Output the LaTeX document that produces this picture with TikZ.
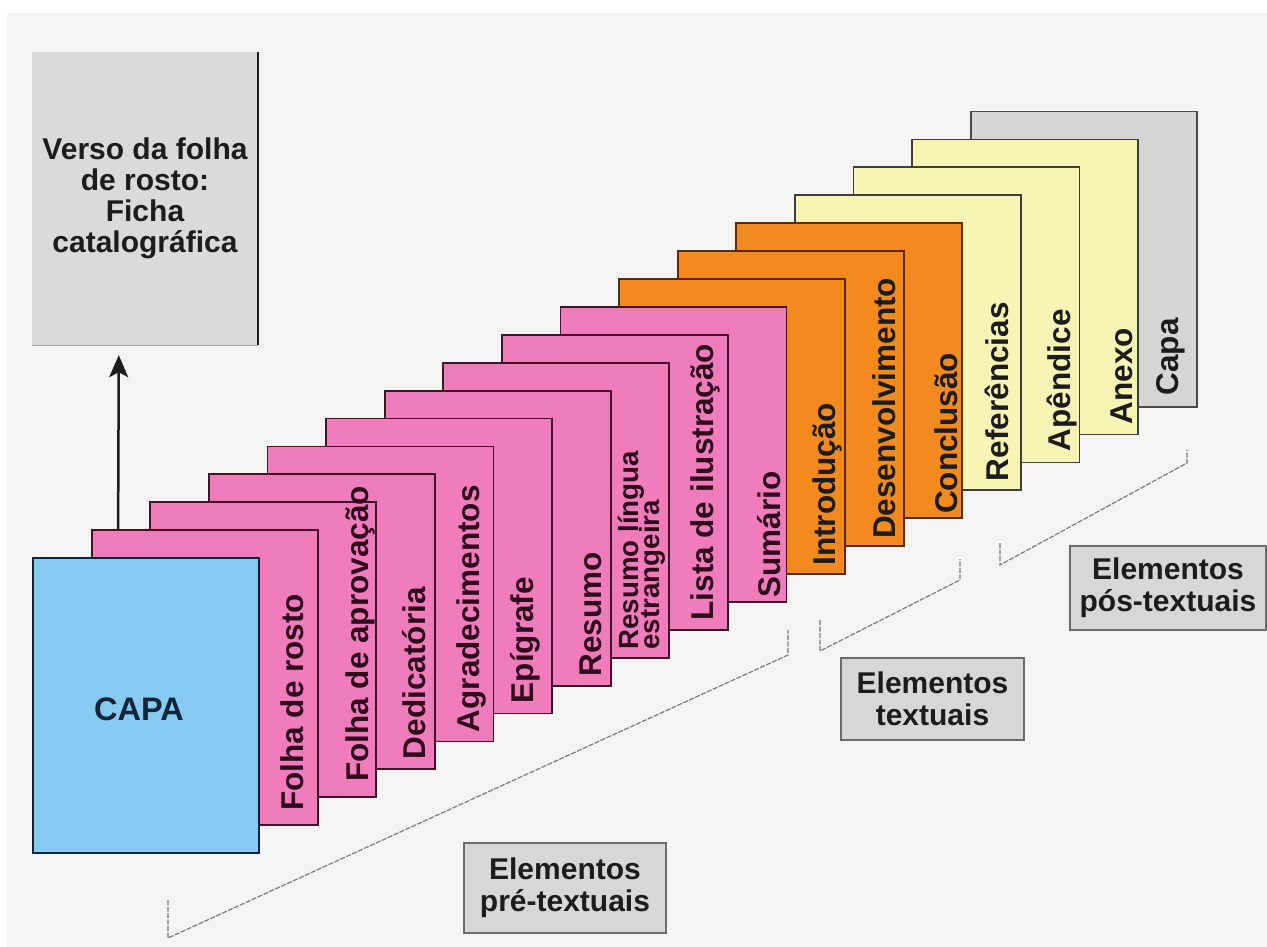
\documentclass[tikz,border=0pt]{standalone}
\usepackage{fontspec}
\setmainfont{Liberation Sans}
\usetikzlibrary{arrows.meta}
\definecolor{bgpaper}{HTML}{F5F4F2}
\definecolor{capablue}{HTML}{86CAEF}
\definecolor{prepink}{HTML}{F07CBC}
\definecolor{txtorange}{HTML}{F28A1E}
\definecolor{poscream}{HTML}{F8F4B6}
\definecolor{posgrey}{HTML}{D6D5D4}
\definecolor{versogrey}{HTML}{DCDAD8}
\definecolor{boxgrey}{HTML}{D9D7D5}
\definecolor{pinkline}{HTML}{3D1428}
\definecolor{orangeline}{HTML}{5A2A0C}
\definecolor{inkdark}{HTML}{1C1C1C}
\definecolor{inkpink}{HTML}{2E0C1C}
\definecolor{inknavy}{HTML}{10243A}
\definecolor{dashgrey}{HTML}{7A7A7A}
\newcommand{\tightlines}{\lineskiplimit=-40pt\relax}
\begin{document}
\begin{tikzpicture}[
    x=1pt, y=-1pt,
    page/.style={draw, line width=1.8pt,
      minimum width=226pt, minimum height=295pt, inner sep=0pt},
    pinkpage/.style={page, fill=prepink, draw=pinkline},
    orangepage/.style={page, fill=txtorange, draw=orangeline},
    creampage/.style={page, fill=poscream, draw=inkdark!85},
    greypage/.style={page, fill=posgrey, draw=inkdark!80},
    lbl/.style={rotate=90, anchor=base west, inner sep=0pt, text=inkdark,
      font=\fontsize{31.5}{34}\selectfont\bfseries},
    pinklbl/.style={lbl, text=inkpink},
    group/.style={draw=inkdark!65, line width=1.6pt, fill=boxgrey,
      align=center, text=inkdark, font=\fontsize{30}{32}\selectfont\bfseries},
    bracket/.style={draw=dashgrey, line width=1.2pt, dash pattern=on 5pt off 1.5pt}
  ]
    \fill[white] (0,0) rectangle (1267,947);
    \fill[bgpaper] (7,13) rectangle (1267,947);
    \useasboundingbox (0,0) rectangle (1267,947);

    \node[greypage] (capafim) at (1083.6,259.1) {};
    \node[lbl] (capafimT) at ([xshift=-19pt,yshift=12pt]capafim.south east) {Capa};
    \node[creampage] (anexo) at (1025,287) {};
    \node[lbl] (anexoT) at ([xshift=-6pt,yshift=11pt]anexo.south east) {Anexo};
    \node[creampage] (apend) at (966.4,314.9) {};
    \node[lbl] (apendT) at ([xshift=-10pt,yshift=12pt]apend.south east) {Apêndice};
    \node[creampage] (refer) at (907.8,342.8) {};
    \node[lbl] (referT) at ([xshift=-13pt,yshift=10pt]refer.south east) {Referências};

    \node[orangepage] (concl) at (849.2,370.7) {};
    \node[lbl] (conclT) at ([xshift=-6pt,yshift=5pt]concl.south east) {Conclusão};
    \node[orangepage] (desenv) at (790.6,398.6) {};
    \node[lbl] (desenvT) at ([xshift=-9pt,yshift=8pt]desenv.south east) {Desenvolvimento};
    \node[orangepage] (intro) at (732,426.5) {};
    \node[lbl] (introT) at ([xshift=-10pt,yshift=9pt]intro.south east) {Introdução};

    \node[pinkpage] (sumario) at (673.4,454.4) {};
    \node[pinklbl] (sumarioT) at ([xshift=-7pt,yshift=5pt]sumario.south east) {Sumário};
    \node[pinkpage] (lista) at (614.8,482.3) {};
    \node[pinklbl] (listaT) at ([xshift=-15pt,yshift=10pt]lista.south east) {Lista de ilustração};
    \node[pinkpage] (lingua) at (556.2,510.2) {};
    \node[pinklbl, anchor=south west, align=left,
      font=\fontsize{27.7}{21}\selectfont\bfseries\tightlines]
      (linguaT) at ([xshift=-5pt,yshift=9pt]lingua.south east) {Resumo língua\\estrangeira};
    \node[pinkpage] (resumo) at (497.6,538.1) {};
    \node[pinklbl] (resumoT) at ([xshift=-10pt,yshift=10pt]resumo.south east) {Resumo};
    \node[pinkpage] (epig) at (439,566) {};
    \node[pinklbl] (epigT) at ([xshift=-19pt,yshift=11pt]epig.south east) {Epígrafe};
    \node[pinkpage] (agrad) at (380.4,593.9) {};
    \node[pinklbl] (agradT) at ([xshift=-15pt,yshift=10pt]agrad.south east) {Agradecimentos};
    \node[pinkpage] (dedic) at (321.8,621.8) {};
    \node[pinklbl] (dedicT) at ([xshift=-10pt,yshift=11pt]dedic.south east) {Dedicatória};
    \node[pinkpage] (aprov) at (263.2,649.7) {};
    \node[pinklbl] (aprovT) at ([xshift=-9pt,yshift=16pt]aprov.south east) {Folha de aprovação};
    \node[pinkpage] (rosto) at (204.6,677.6) {};
    \node[pinklbl] (rostoT) at ([xshift=-15pt,yshift=15pt]rosto.south east) {Folha de rosto};

    \node[page, fill=capablue, draw=inknavy] (capa) at (146,705.5) {};
    \node[text=inknavy, font=\fontsize{32.5}{36}\selectfont\bfseries]
      (capaT) at ([xshift=-7pt,yshift=-4pt]capa.center) {CAPA};

    \node[fill=versogrey, minimum width=226pt, minimum height=293pt, inner sep=0pt,
      align=center, text=inkdark, font=\fontsize{30}{31}\selectfont\bfseries]
      (verso) at (145,198.5) {Verso da folha\\de rosto:\\Ficha\\catalográfica};
    \draw[line width=1.6pt, inkdark] (verso.north east) -- (verso.south east);
    \draw[line width=1pt, inkdark!40] (verso.south west) -- (verso.south east);
    \draw[line width=2.5pt, inkdark, -{Stealth[length=22pt, width=19pt, inset=5pt]}]
      ([xshift=27.4pt]rosto.north west) -- ([xshift=87pt,yshift=-10pt]verso.south west);

    \draw[bracket] (168,900) -- (168,938) -- (788,655) -- (788,630);
    \draw[bracket] (820,620) -- (820,651) -- (960,580) -- (960,559);
    \draw[bracket] (1000,543) -- (1000,565) -- (1187,463) -- (1187,450);

    \node[group, minimum width=202pt, minimum height=90pt] (preT) at (565,888)
      {Elementos\\pré-textuais};
    \node[group, minimum width=183pt, minimum height=82pt] (textT) at (932.5,699)
      {Elementos\\textuais};
    \node[group, minimum width=196pt, minimum height=84pt] (posT) at (1168,588)
      {Elementos\\pós-textuais};
  \end{tikzpicture}
\end{document}
